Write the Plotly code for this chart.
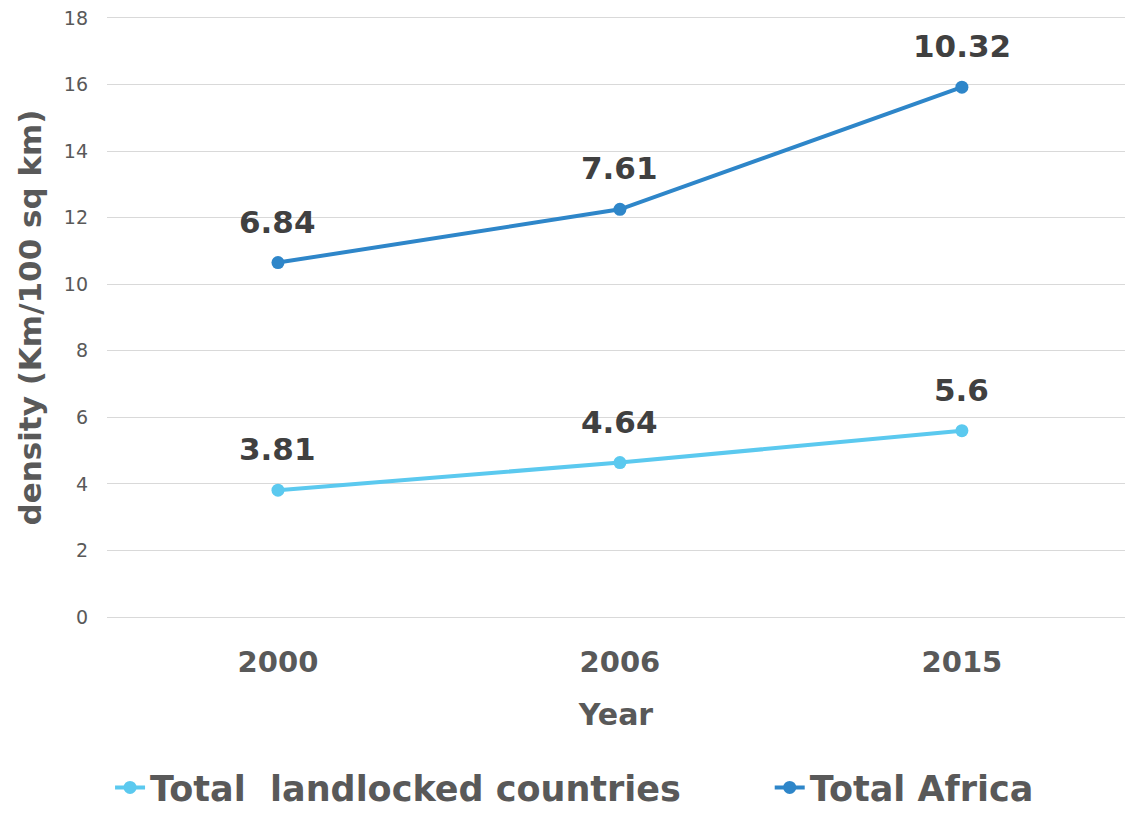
import plotly.graph_objects as go

years = ["2000", "2006", "2015"]
landlocked = [3.81, 4.64, 5.6]
africa = [6.84, 7.61, 10.32]
names = ["Total\u00a0\u00a0landlocked countries", "Total Africa"]
colors = ["#5BC9EF", "#2E86C9"]
yticks = list(range(0, 19, 2))

FONT = "DejaVu Sans"
GRID = "#D9D9D9"
fig = go.Figure()
for vals, name, col, lg in [(landlocked, names[0], colors[0], "legend"),
                            (africa, names[1], colors[1], "legend2")]:
    fig.add_trace(go.Scatter(
        x=years, y=vals, name=name, mode="lines+markers",
        stackgroup="one", fill="none", legend=lg,
        line=dict(color=col, width=4), marker=dict(size=13, color=col),
        hoverinfo="x+y",
    ))

# value labels placed above the stacked points (x given as category index)
for i in range(len(years)):
    base = landlocked[i]
    top = landlocked[i] + africa[i]
    for yv, label in [(base, landlocked[i]), (top, africa[i])]:
        fig.add_annotation(x=i, y=yv, text=str(label), showarrow=False,
                           yanchor="middle", yshift=41,
                           font=dict(family=FONT, size=31, color="#404040", weight="bold"))

legend_common = dict(orientation="h", xanchor="left", y=-0.285, yanchor="middle",
                     font=dict(size=35, weight="bold", color="#595959"), itemwidth=30,
                     bgcolor="rgba(0,0,0,0)")

fig.update_layout(
    width=1125, height=818,
    margin=dict(l=107, r=0, t=18, b=201, autoexpand=False),
    paper_bgcolor="white", plot_bgcolor="white",
    font=dict(family=FONT, color="#595959"),
    xaxis=dict(type="category", range=[-0.5, 2.477], showgrid=False,
               showline=True, mirror=True, linecolor=GRID, linewidth=1.3,
               zeroline=False, ticks="", ticklabelstandoff=19,
               tickfont=dict(size=29, weight="bold", color="#595959"),
               title=dict(text="Year", font=dict(size=30, weight="bold", color="#595959"), standoff=26)),
    yaxis=dict(range=[0, 18], tickvals=yticks, showgrid=True, gridcolor=GRID, gridwidth=1.3,
               zeroline=False, showline=False, ticks="", ticklabelstandoff=18,
               tickfont=dict(size=19, color="#595959"),
               title=dict(text="density (Km/100 sq km)", font=dict(size=31, weight="bold", color="#595959"), standoff=12)),
    legend=dict(x=0.003, **legend_common),
    legend2=dict(x=0.651, **legend_common),
    showlegend=True,
)
fig.write_html("out.html")
